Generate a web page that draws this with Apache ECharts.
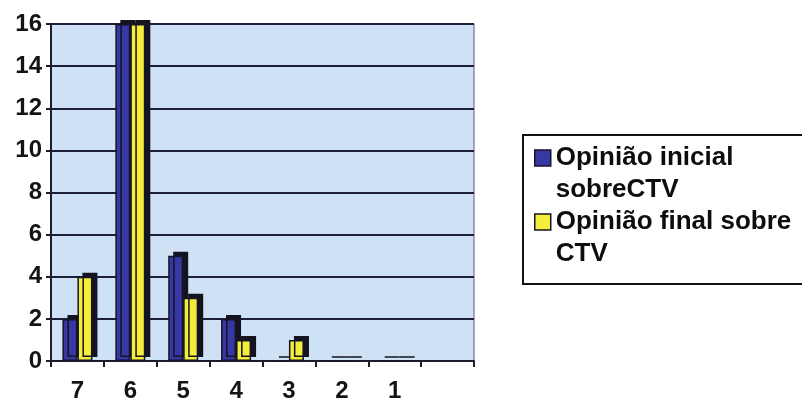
<!DOCTYPE html>
<html>
<head>
<meta charset="utf-8">
<script src="https://cdn.jsdelivr.net/npm/echarts@6/dist/echarts.min.js"></script>
<style>html,body{margin:0;padding:0;background:#fff;}#c{width:802px;height:403px;}</style>
</head>
<body>
<div id="c"></div>
<script>
const categories = ['7', '6', '5', '4', '3', '2', '1', ''];
const initialValues = [2, 16, 5, 2, 0, 0, 0, '-'];
const finalValues = [4, 16, 3, 1, 1, 0, 0, '-'];
const yTicks = { min: 0, max: 16, interval: 2 };
const seriesNames = ['Opinião inicial\nsobreCTV', 'Opinião final sobre\nCTV'];

const chart = echarts.init(document.getElementById('c'), null, { renderer: 'canvas' });
const font = 'Liberation Sans, Arial, sans-serif';
const barStyle = (color) => ({
  color: color,
  borderColor: '#15152a',
  borderWidth: 1.5,
  shadowColor: '#141420',
  shadowBlur: 0,
  shadowOffsetX: 5,
  shadowOffsetY: -4
});
chart.setOption({
  animation: false,
  backgroundColor: '#ffffff',
  grid: {
    left: 51, right: 328, top: 24, bottom: 39,
    show: true,
    backgroundColor: '#cfe2f5',
    borderColor: '#5a5a80',
    borderWidth: 1
  },
  legend: {
    left: 523, top: 135,
    orient: 'vertical',
    padding: [7, 40, 14, 11],
    itemGap: 0,
    itemWidth: 16,
    itemHeight: 48,
    icon: 'path://M0,0H16V16H0Z M16,48',
    backgroundColor: '#ffffff',
    borderColor: '#111',
    borderWidth: 2,
    borderRadius: 0,
    itemStyle: { shadowBlur: 0, shadowOffsetX: 0, shadowOffsetY: 0, borderWidth: 1.5 },
    textStyle: {
      fontFamily: font, fontWeight: 'bold', fontSize: 26, lineHeight: 32, color: '#0d0d0d'
    },
    data: seriesNames
  },
  xAxis: {
    type: 'category',
    data: categories,
    boundaryGap: true,
    axisLine: { lineStyle: { color: '#1c1c2c', width: 2 } },
    axisTick: { show: true, interval: 0, length: 6, lineStyle: { color: '#1c1c2c', width: 2 } },
    axisLabel: { interval: 0, margin: 18, fontFamily: font, fontWeight: 'bold', fontSize: 24, color: '#141414' }
  },
  yAxis: {
    type: 'value',
    min: yTicks.min, max: yTicks.max, interval: yTicks.interval,
    axisLine: { show: true, lineStyle: { color: '#1c1c2c', width: 2 } },
    axisTick: { show: true, length: 5, lineStyle: { color: '#1c1c2c', width: 2 } },
    axisLabel: { margin: 9, fontFamily: font, fontWeight: 'bold', fontSize: 24, color: '#141414' },
    splitLine: { show: true, lineStyle: { color: '#1e1e3a', width: 2 } }
  },
  series: [
    {
      name: seriesNames[0], type: 'bar', data: initialValues,
      barWidth: 15, barGap: '0%',
      itemStyle: barStyle('#3838a4')
    },
    {
      name: seriesNames[1], type: 'bar', data: finalValues,
      barWidth: 15, barGap: '0%',
      itemStyle: barStyle('#f4ee3a')
    }
  ]
});
</script>
</body>
</html>
